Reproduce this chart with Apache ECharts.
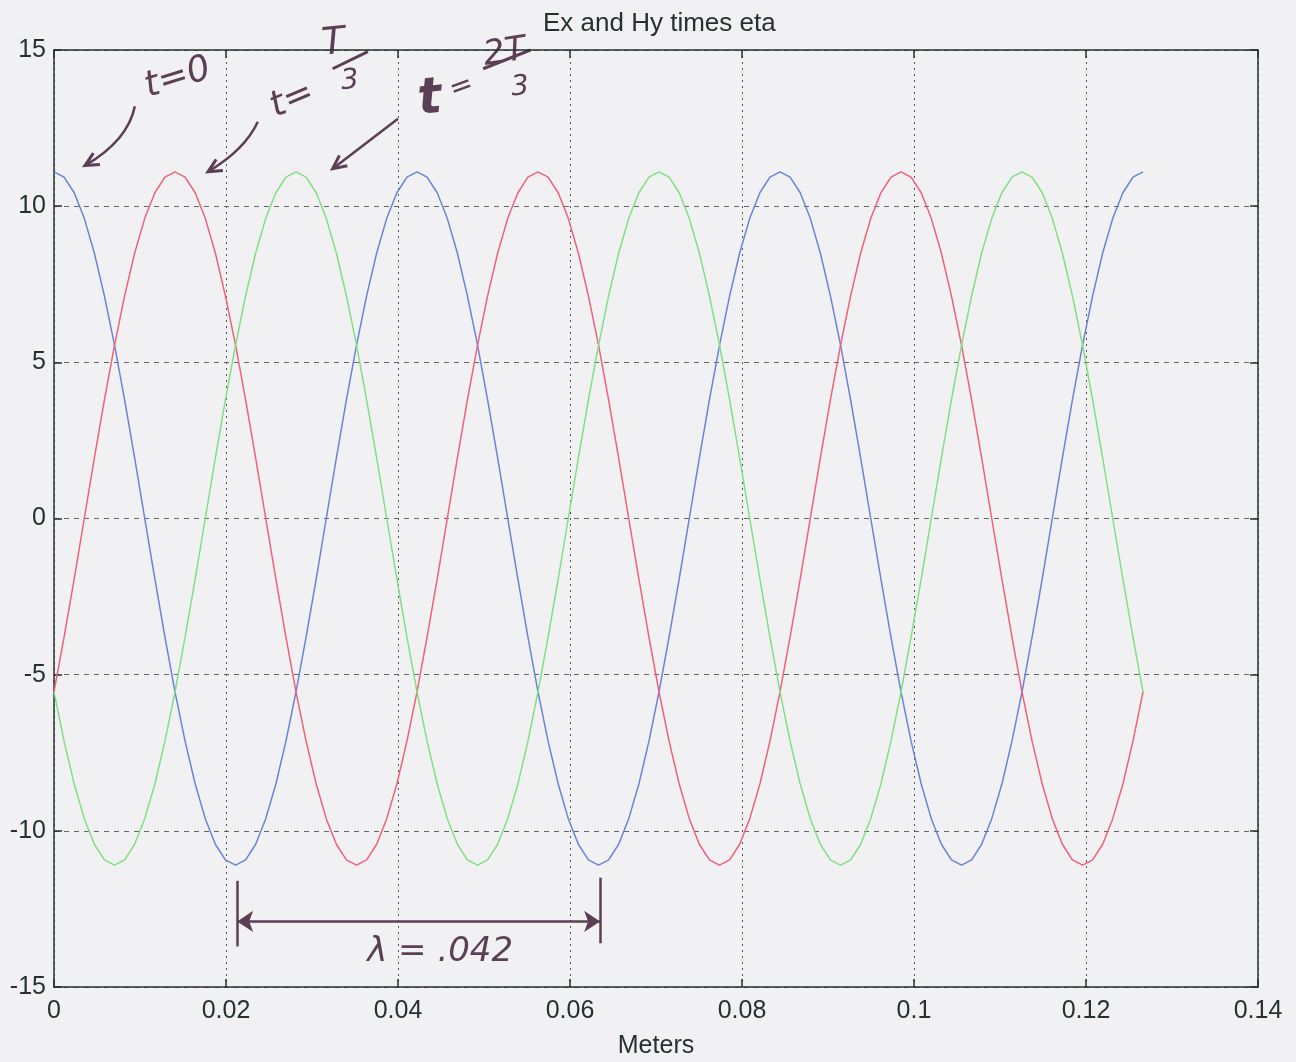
<!DOCTYPE html>
<html>
<head>
<meta charset="utf-8">
<script src="https://cdn.jsdelivr.net/npm/echarts@6/dist/echarts.min.js"></script>
<style>
  html, body { margin: 0; padding: 0; background: #f1f1f3; }
  #chart { width: 1296px; height: 1062px; }
</style>
</head>
<body>
<div id="chart"></div>
<script>
// sample positions along the line (m)
const meters = [
  0, 0.00117, 0.00235, 0.00352, 0.00469, 0.00586, 0.00704, 0.00821, 0.00938, 0.01055,
  0.01173, 0.01290, 0.01407, 0.01524, 0.01642, 0.01759, 0.01876, 0.01993, 0.02111, 0.02228,
  0.02345, 0.02462, 0.02580, 0.02697, 0.02814, 0.02931, 0.03049, 0.03166, 0.03283, 0.03400,
  0.03518, 0.03635, 0.03752, 0.03869, 0.03987, 0.04104, 0.04221, 0.04338, 0.04456, 0.04573,
  0.04690, 0.04807, 0.04925, 0.05042, 0.05159, 0.05276, 0.05394, 0.05511, 0.05628, 0.05745,
  0.05863, 0.05980, 0.06097, 0.06214, 0.06332, 0.06449, 0.06566, 0.06683, 0.06801, 0.06918,
  0.07035, 0.07152, 0.07270, 0.07387, 0.07504, 0.07621, 0.07739, 0.07856, 0.07973, 0.08090,
  0.08208, 0.08325, 0.08442, 0.08559, 0.08677, 0.08794, 0.08911, 0.09028, 0.09146, 0.09263,
  0.09380, 0.09497, 0.09615, 0.09732, 0.09849, 0.09966, 0.10084, 0.10201, 0.10318, 0.10435,
  0.10553, 0.10670, 0.10787, 0.10904, 0.11022, 0.11139, 0.11256, 0.11373, 0.11491, 0.11608,
  0.11725, 0.11842, 0.11960, 0.12077, 0.12194, 0.12311, 0.12429, 0.12546, 0.12663
]

// t = 0
const blueVals = [
  11.10, 10.93, 10.43, 9.61, 8.50, 7.13, 5.55, 3.80, 1.93, 0, -1.93, -3.80, -5.55, -7.13, -8.50, -9.61, -10.43, -10.93,
  -11.10, -10.93, -10.43, -9.61, -8.50, -7.13, -5.55, -3.80, -1.93, 0, 1.93, 3.80, 5.55, 7.13, 8.50, 9.61, 10.43, 10.93,
  11.10, 10.93, 10.43, 9.61, 8.50, 7.13, 5.55, 3.80, 1.93, 0, -1.93, -3.80, -5.55, -7.13, -8.50, -9.61, -10.43, -10.93,
  -11.10, -10.93, -10.43, -9.61, -8.50, -7.13, -5.55, -3.80, -1.93, 0, 1.93, 3.80, 5.55, 7.13, 8.50, 9.61, 10.43, 10.93,
  11.10, 10.93, 10.43, 9.61, 8.50, 7.13, 5.55, 3.80, 1.93, 0, -1.93, -3.80, -5.55, -7.13, -8.50, -9.61, -10.43, -10.93,
  -11.10, -10.93, -10.43, -9.61, -8.50, -7.13, -5.55, -3.80, -1.93, 0, 1.93, 3.80, 5.55, 7.13, 8.50, 9.61, 10.43, 10.93,
  11.10
]
// t = T/3
const redVals = [
  -5.55, -3.80, -1.93, 0, 1.93, 3.80, 5.55, 7.13, 8.50, 9.61, 10.43, 10.93, 11.10, 10.93, 10.43, 9.61, 8.50, 7.13,
  5.55, 3.80, 1.93, 0, -1.93, -3.80, -5.55, -7.13, -8.50, -9.61, -10.43, -10.93, -11.10, -10.93, -10.43, -9.61, -8.50, -7.13,
  -5.55, -3.80, -1.93, 0, 1.93, 3.80, 5.55, 7.13, 8.50, 9.61, 10.43, 10.93, 11.10, 10.93, 10.43, 9.61, 8.50, 7.13,
  5.55, 3.80, 1.93, 0, -1.93, -3.80, -5.55, -7.13, -8.50, -9.61, -10.43, -10.93, -11.10, -10.93, -10.43, -9.61, -8.50, -7.13,
  -5.55, -3.80, -1.93, 0, 1.93, 3.80, 5.55, 7.13, 8.50, 9.61, 10.43, 10.93, 11.10, 10.93, 10.43, 9.61, 8.50, 7.13,
  5.55, 3.80, 1.93, 0, -1.93, -3.80, -5.55, -7.13, -8.50, -9.61, -10.43, -10.93, -11.10, -10.93, -10.43, -9.61, -8.50, -7.13,
  -5.55
]
// t = 2T/3
const greenVals = [
  -5.55, -7.13, -8.50, -9.61, -10.43, -10.93, -11.10, -10.93, -10.43, -9.61, -8.50, -7.13, -5.55, -3.80, -1.93, 0, 1.93, 3.80,
  5.55, 7.13, 8.50, 9.61, 10.43, 10.93, 11.10, 10.93, 10.43, 9.61, 8.50, 7.13, 5.55, 3.80, 1.93, 0, -1.93, -3.80,
  -5.55, -7.13, -8.50, -9.61, -10.43, -10.93, -11.10, -10.93, -10.43, -9.61, -8.50, -7.13, -5.55, -3.80, -1.93, 0, 1.93, 3.80,
  5.55, 7.13, 8.50, 9.61, 10.43, 10.93, 11.10, 10.93, 10.43, 9.61, 8.50, 7.13, 5.55, 3.80, 1.93, 0, -1.93, -3.80,
  -5.55, -7.13, -8.50, -9.61, -10.43, -10.93, -11.10, -10.93, -10.43, -9.61, -8.50, -7.13, -5.55, -3.80, -1.93, 0, 1.93, 3.80,
  5.55, 7.13, 8.50, 9.61, 10.43, 10.93, 11.10, 10.93, 10.43, 9.61, 8.50, 7.13, 5.55, 3.80, 1.93, 0, -1.93, -3.80,
  -5.55
]

// hand written notes on the printout (data coords)
const notes = [
  { text: 't=0', at: [0.0144, 14.1], size: 36, rot: 0.3 },
  { text: 't=', at: [0.0277, 13.4], size: 36, rot: 0.4 },
  { text: 'T', at: [0.0325, 15.2], size: 38, rot: 0.1 },
  { text: '3', at: [0.0344, 14.0], size: 28, rot: 0.1 },
  { text: 't', at: [0.0437, 13.4], size: 50, rot: 0.1, bold: true },
  { text: '=', at: [0.0474, 13.8], size: 28, rot: 0.35 },
  { text: '2T', at: [0.0524, 14.9], size: 34, rot: 0.15 },
  { text: '3', at: [0.0542, 13.8], size: 28, rot: 0.1 },
  { text: 'λ = .042', at: [0.0449, -13.9], size: 34, rot: 0 }
]
const fractionBars = [
  [[0.0324, 14.4], [0.0365, 14.95]],
  [[0.0499, 14.4], [0.0554, 15.0]]
]
// start, bend, tip
const arrows = [
  [[0.0094, 13.2], [0.0086, 12.1], [0.0036, 11.3]],
  [[0.0237, 12.7], [0.0222, 11.8], [0.0179, 11.1]],
  [[0.0400, 12.8], [0.0367, 12.1], [0.0324, 11.2]]
]
const lambdaFrom = 0.0213, lambdaTo = 0.0635

const ink = '#5b3f55'
const axisColor = '#263030'
const font = 'Liberation Sans'

function pairs(ys) {
  return ys.map((y, i) => [meters[i], y])
}

const chart = echarts.init(document.getElementById('chart'))

const inkLine = { color: ink, width: 2.5, type: 'solid' }
const marks = [
  [{ coord: [lambdaFrom, -12.9], symbol: 'arrow' }, { coord: [lambdaTo, -12.9], symbol: 'arrow' }],
  [{ coord: [lambdaFrom, -11.6], symbol: 'none' }, { coord: [lambdaFrom, -13.7], symbol: 'none' }],
  [{ coord: [lambdaTo, -11.5], symbol: 'none' }, { coord: [lambdaTo, -13.6], symbol: 'none' }]
]

const axisLbl = { fontFamily: font, fontSize: 25, color: axisColor }

chart.setOption({
  animation: false,
  backgroundColor: '#f1f1f3',
  title: {
    text: 'Ex and Hy times eta',
    left: 538,
    top: 6,
    textStyle: { fontFamily: font, fontSize: 26, fontWeight: 'normal', color: axisColor }
  },
  grid: { left: 54, right: 38, top: 50, bottom: 75, containLabel: false, outerBoundsMode: 'none' },
  xAxis: [
    {
      type: 'value', min: 0, max: 0.14, interval: 0.02,
      name: 'Meters', nameLocation: 'middle', nameGap: 47,
      nameTextStyle: axisLbl,
      axisLine: { show: true, onZero: false, lineStyle: { color: axisColor, width: 1.5 } },
      axisTick: { show: true, inside: true, length: 8, lineStyle: { color: axisColor, width: 1.5 } },
      axisLabel: Object.assign({ margin: 12, formatter: v => String(+v.toFixed(2)) }, axisLbl),
      splitLine: { show: true, lineStyle: { color: '#555', type: [2, 4], width: 1 } }
    },
    {
      type: 'value', position: 'top', min: 0, max: 0.14, interval: 0.02,
      axisLine: { show: true, onZero: false, lineStyle: { color: axisColor, width: 1.5 } },
      axisTick: { show: true, inside: true, length: 8, lineStyle: { color: axisColor, width: 1.5 } },
      axisLabel: { show: false },
      splitLine: { show: false }
    }
  ],
  yAxis: [
    {
      type: 'value', min: -15, max: 15, interval: 5,
      axisLine: { show: true, onZero: false, lineStyle: { color: axisColor, width: 1.5 } },
      axisTick: { show: true, inside: true, length: 8, lineStyle: { color: axisColor, width: 1.5 } },
      axisLabel: Object.assign({ margin: 8 }, axisLbl),
      splitLine: { show: true, lineStyle: { color: '#666', type: [5, 5], width: 1 } }
    },
    {
      type: 'value', position: 'right', min: -15, max: 15, interval: 5,
      axisLine: { show: true, onZero: false, lineStyle: { color: axisColor, width: 1.5 } },
      axisTick: { show: true, inside: true, length: 8, lineStyle: { color: axisColor, width: 1.5 } },
      axisLabel: { show: false },
      splitLine: { show: false }
    }
  ],
  series: [
    {
      name: 't=0', type: 'line', data: pairs(blueVals), showSymbol: false,
      lineStyle: { color: '#6a82d8', width: 1.5 }, silent: true
    },
    {
      name: 't=T/3', type: 'line', data: pairs(redVals), showSymbol: false,
      lineStyle: { color: '#f0607a', width: 1.5 }, silent: true
    },
    {
      name: 't=2T/3', type: 'line', data: pairs(greenVals), showSymbol: false,
      lineStyle: { color: '#80e080', width: 1.5 }, silent: true,
      markLine: {
        silent: true, animation: false,
        symbolSize: 16,
        label: { show: false },
        emphasis: { disabled: true },
        lineStyle: inkLine,
        data: marks
      }
    }
  ]
})

// hand lettering, placed through the axes
const px = p => chart.convertToPixel({ gridIndex: 0 }, p)
const graphics = notes.map(n => {
  const p = px(n.at)
  return {
    type: 'text', x: p[0], y: p[1], rotation: n.rot, silent: true,
    style: {
      text: n.text, fill: ink, fontSize: n.size, fontFamily: 'DejaVu Sans',
      fontStyle: 'italic', fontWeight: n.bold ? 'bold' : 'normal',
      align: 'center', verticalAlign: 'middle'
    }
  }
})
fractionBars.forEach(b => {
  const a = px(b[0]), c = px(b[1])
  graphics.push({
    type: 'line', silent: true,
    shape: { x1: a[0], y1: a[1], x2: c[0], y2: c[1] },
    style: { stroke: ink, lineWidth: 3 }
  })
})
// curved pointer arrows with an open head
arrows.forEach(a => {
  const s = px(a[0]), c = px(a[1]), e = px(a[2])
  graphics.push({
    type: 'bezierCurve', silent: true,
    shape: { x1: s[0], y1: s[1], cpx1: c[0], cpy1: c[1], x2: e[0], y2: e[1] },
    style: { stroke: ink, lineWidth: 2.5, fill: null }
  })
  const ang = Math.atan2(e[1] - c[1], e[0] - c[0])
  const head = [ang + Math.PI - 0.45, ang + Math.PI + 0.45].map(t => [e[0] + 15 * Math.cos(t), e[1] + 15 * Math.sin(t)])
  graphics.push({
    type: 'polyline', silent: true,
    shape: { points: [head[0], e, head[1]] },
    style: { stroke: ink, lineWidth: 3, fill: null }
  })
})
chart.setOption({ graphic: graphics })
</script>
</body>
</html>
